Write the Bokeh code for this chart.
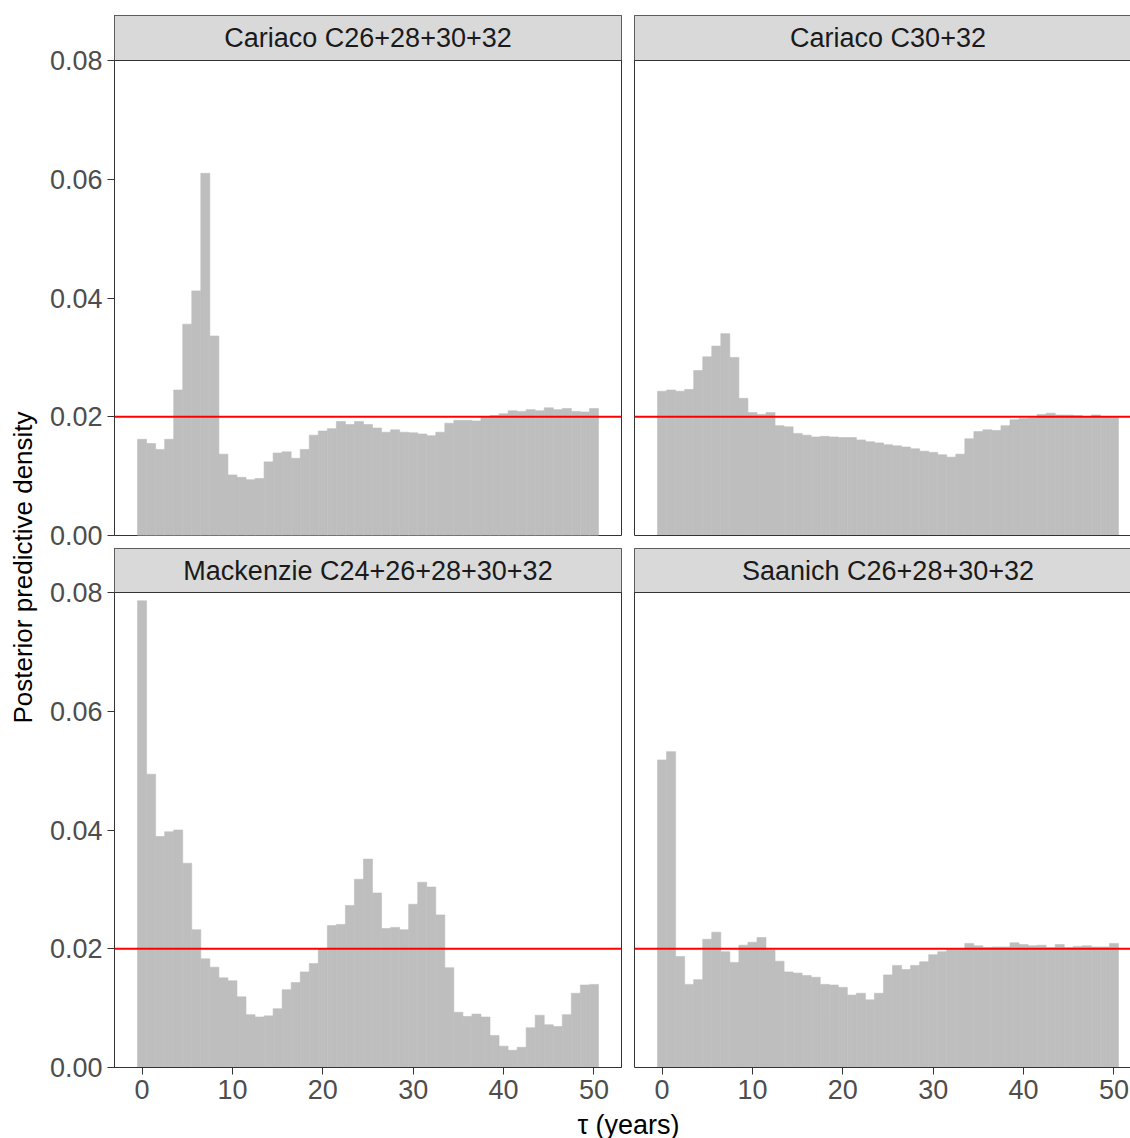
# faceted histograms of posterior predictive tau, 4 records, redrawn in bokeh

import math
from bokeh.plotting import figure
from bokeh.models import (ColumnDataSource, Range1d, Span, BoxAnnotation, Label,
                          LinearAxis, FixedTicker, NumeralTickFormatter)
from bokeh.layouts import row, column
from bokeh.core.properties import value
from bokeh.embed import file_html
from bokeh.resources import INLINE

# data (bin width 1 year, bins centred on 0..50)
tau = list(range(51))

cariaco_26_32 = [0.0162, 0.0155, 0.0145, 0.0162, 0.0245, 0.0356, 0.0412, 0.0610, 0.0336, 0.0137,
                 0.0102, 0.0098, 0.0094, 0.0096, 0.0124, 0.0139, 0.0141, 0.0130, 0.0145, 0.0169,
                 0.0176, 0.0180, 0.0192, 0.0187, 0.0192, 0.0187, 0.0181, 0.0174, 0.0178, 0.0174,
                 0.0173, 0.0171, 0.0168, 0.0174, 0.0189, 0.0194, 0.0194, 0.0193, 0.0199, 0.0202,
                 0.0205, 0.0210, 0.0209, 0.0212, 0.0210, 0.0215, 0.0212, 0.0214, 0.0209, 0.0208,
                 0.0214]

cariaco_30_32 = [0.0243, 0.0245, 0.0243, 0.0246, 0.0278, 0.0301, 0.0319, 0.0340, 0.0300, 0.0231,
                 0.0207, 0.0204, 0.0207, 0.0185, 0.0183, 0.0172, 0.0169, 0.0166, 0.0167, 0.0166,
                 0.0165, 0.0165, 0.0161, 0.0158, 0.0156, 0.0153, 0.0151, 0.0149, 0.0146, 0.0142,
                 0.0140, 0.0136, 0.0132, 0.0137, 0.0163, 0.0175, 0.0178, 0.0177, 0.0185, 0.0195,
                 0.0197, 0.0198, 0.0204, 0.0206, 0.0203, 0.0203, 0.0202, 0.0200, 0.0203, 0.0200,
                 0.0199]

mackenzie_24_32 = [0.0786, 0.0494, 0.0389, 0.0397, 0.0400, 0.0344, 0.0232, 0.0183, 0.0169, 0.0151,
                   0.0146, 0.0119, 0.0089, 0.0085, 0.0087, 0.0099, 0.0131, 0.0143, 0.0161, 0.0175,
                   0.0200, 0.0239, 0.0241, 0.0273, 0.0317, 0.0351, 0.0294, 0.0234, 0.0236, 0.0232,
                   0.0275, 0.0312, 0.0304, 0.0257, 0.0168, 0.0093, 0.0086, 0.0090, 0.0085, 0.0054,
                   0.0036, 0.0029, 0.0034, 0.0067, 0.0088, 0.0072, 0.0069, 0.0089, 0.0125, 0.0139,
                   0.0140]

saanich_26_32 = [0.0518, 0.0532, 0.0187, 0.0140, 0.0148, 0.0216, 0.0228, 0.0195, 0.0177, 0.0206,
                 0.0211, 0.0219, 0.0198, 0.0179, 0.0161, 0.0159, 0.0155, 0.0152, 0.0140, 0.0139,
                 0.0135, 0.0122, 0.0125, 0.0114, 0.0125, 0.0156, 0.0172, 0.0165, 0.0172, 0.0178,
                 0.0190, 0.0195, 0.0199, 0.0199, 0.0209, 0.0205, 0.0202, 0.0203, 0.0203, 0.0210,
                 0.0207, 0.0205, 0.0206, 0.0202, 0.0207, 0.0202, 0.0204, 0.0205, 0.0203, 0.0203,
                 0.0209]

titles = ["Cariaco C26+28+30+32", "Cariaco C30+32",
          "Mackenzie C24+26+28+30+32", "Saanich C26+28+30+32"]
y_ticks = [0, 0.02, 0.04, 0.06, 0.08]
x_ticks = [0, 10, 20, 30, 40, 50]
uniform_density = 0.02   # 1/50, the red reference line
y_title = "Posterior predictive density"
x_title = "\u03c4 (years)"

FONT = "Liberation Sans"
DARK = "#333333"
BAR = "#BEBEBE"
STRIP = "#D9D9D9"

# panel geometry (pixels)
PLOT_H = 475            # height of the data area under the strip
X_LO, X_HI = -3.05, 53.05
LEFT_FRAME_W = 507
PX_PER_X = LEFT_FRAME_W / (X_HI - X_LO)


def border_axis():
    # an axis whose only tick lies far outside the range: just a border line
    return LinearAxis(ticker=FixedTicker(ticks=[-1e9], minor_ticks=[]),
                      axis_line_color=DARK, axis_line_width=1,
                      major_tick_out=0, major_tick_in=0, minor_tick_out=0, minor_tick_in=0,
                      major_label_standoff=0)


def style_axis(ax, ticks, fmt=None):
    ax.ticker = FixedTicker(ticks=ticks, minor_ticks=[])
    if fmt is not None:
        ax.formatter = fmt
    ax.axis_line_color = DARK
    ax.major_tick_line_color = DARK
    ax.major_tick_out = 7
    ax.major_tick_in = 0
    ax.minor_tick_line_color = None
    ax.major_label_standoff = 5
    ax.major_label_text_font = FONT
    ax.major_label_text_font_size = "27px"
    ax.major_label_text_color = "#4D4D4D"


def panel(dens, title, col, rownum):
    top_row = rownum == 0
    left_col = col == 0
    frame_h = 520 if top_row else 519
    y_end = 0.08 * frame_h / PLOT_H
    if left_col:
        width, mb_left, mb_right, frame_w = 588, 74, 7, LEFT_FRAME_W
    else:
        width, mb_left, mb_right, frame_w = 502, 6, 0, 496
    x_end = X_LO + frame_w / PX_PER_X
    if top_row:
        height, mb_top, mb_bot = 547, 15, 12
    else:
        height, mb_top, mb_bot = 563, 1, 43

    p = figure(width=width, height=height, output_backend="svg", toolbar_location=None,
               x_range=Range1d(X_LO, x_end), y_range=Range1d(0, y_end),
               x_axis_location=None if top_row else "below",
               y_axis_location="left" if left_col else None,
               min_border_left=mb_left, min_border_right=mb_right,
               min_border_top=mb_top, min_border_bottom=mb_bot)
    p.background_fill_color = "white"
    p.border_fill_color = "white"
    p.xgrid.grid_line_color = None
    p.ygrid.grid_line_color = None

    if not top_row:
        style_axis(p.below[0], x_ticks)
    if left_col:
        p.outline_line_color = DARK
        p.outline_line_width = 1
        style_axis(p.left[0], y_ticks, NumeralTickFormatter(format="0.00"))
    else:
        p.outline_line_color = None
        p.add_layout(border_axis(), "left")
        p.add_layout(border_axis(), "above")
        if top_row:
            p.add_layout(border_axis(), "below")

    src = ColumnDataSource(dict(left=[t - 0.5 for t in tau], right=[t + 0.5 for t in tau],
                                top=dens, bottom=[0] * len(tau)))
    p.quad(left="left", right="right", top="top", bottom="bottom", source=src,
           fill_color=BAR, line_color=BAR, line_width=0.6)

    p.add_layout(Span(location=uniform_density, dimension="width",
                      line_color="#FF0000", line_width=2))

    # facet strip
    p.add_layout(BoxAnnotation(bottom=0.08, fill_color=STRIP, fill_alpha=1.0, line_color=None))
    p.add_layout(Span(location=0.08, dimension="width", line_color=DARK, line_width=1.2))
    p.add_layout(Label(x=(X_LO + X_HI) / 2, y=(0.08 + y_end) / 2, text=title,
                       text_align="center", text_baseline="middle",
                       text_font=FONT, text_font_size="27px", text_color="#1A1A1A"))
    return p


tl = panel(cariaco_26_32, titles[0], 0, 0)
tr = panel(cariaco_30_32, titles[1], 1, 0)
bl = panel(mackenzie_24_32, titles[2], 0, 1)
br = panel(saanich_26_32, titles[3], 1, 1)

# y title figure spanning both rows
ylab = figure(width=40, height=1138, output_backend="svg", toolbar_location=None,
              x_range=Range1d(0, 40), y_range=Range1d(0, 1138),
              x_axis_location=None, y_axis_location=None, min_border=0)
ylab.outline_line_color = None
ylab.grid.grid_line_color = None
ylab.text(x=[22], y=[1138 - 567], text=[y_title], angle=math.pi / 2,
          text_align="center", text_baseline="middle",
          text_font=value(FONT), text_font_size="26px", text_color="black")

# x title figure spanning both columns
xlab = figure(width=1090, height=28, output_backend="svg", toolbar_location=None,
              x_range=Range1d(0, 1090), y_range=Range1d(0, 28),
              x_axis_location=None, y_axis_location=None, min_border=0)
xlab.outline_line_color = None
xlab.grid.grid_line_color = None
xlab.text(x=[588], y=[14], text=[x_title], text_align="center", text_baseline="middle",
          text_font=value(FONT), text_font_size="27px", text_color="black")

layout = row(ylab, column(row(tl, tr), row(bl, br), xlab))

open("out.html", "w").write(file_html(layout, INLINE))
